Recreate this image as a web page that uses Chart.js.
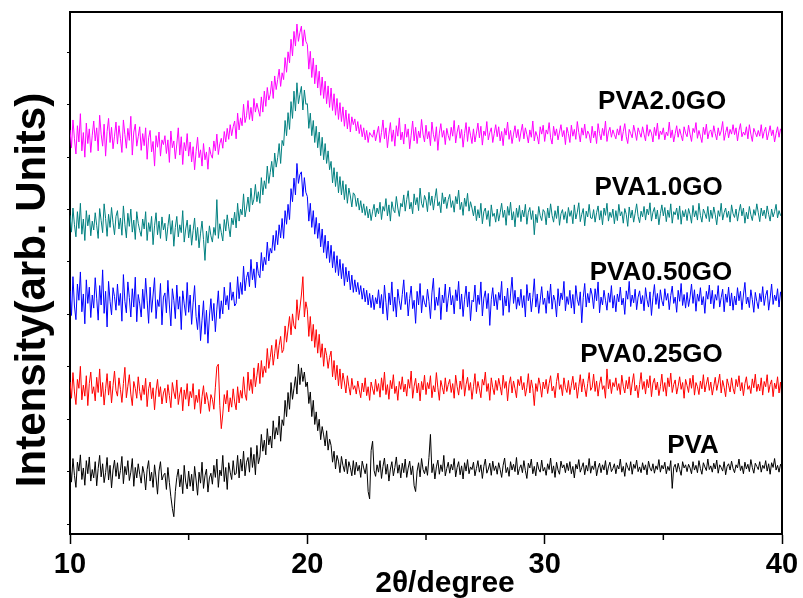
<!DOCTYPE html>
<html>
<head>
<meta charset="utf-8">
<script src="https://cdn.jsdelivr.net/npm/chart.js@4.4.1/dist/chart.umd.min.js"></script>
<style>
  html, body { margin: 0; padding: 0; background: #fff; }
  #wrap { width: 803px; height: 598px; }
</style>
</head>
<body>
<div id="wrap"><canvas id="xrdChart"></canvas></div>
<script>
// 2theta scan 10..40 deg, 16 readings per degree (one row = one degree)
const thetaStart = 10
const thetaEnd = 40

// intensities (arb. units, curves already stacked as in the figure)
const pva = [
  112,80,125,93,70,118,101,132,85,107,74,121,96,128,82,104,
  88,119,73,106,131,90,115,79,98,127,84,112,69,103,122,91,
  117,86,102,129,77,110,94,121,83,99,125,72,108,88,115,95,
  78,110,96,65,104,121,82,99,70,113,88,57,101,119,84,93,
  97,66,108,79,52,30,14,62,89,105,71,94,58,112,80,67,
  101,72,95,63,110,84,55,99,78,118,68,92,105,61,88,97,
  76,112,89,124,70,103,92,131,81,108,66,117,99,85,121,94,
  96,131,88,124,101,139,92,118,127,99,146,108,133,94,150,115,
  128,171,139,160,132,182,151,168,145,197,162,184,170,206,158,199,
  188,236,205,251,219,270,238,259,281,248,305,266,298,272,290,262,
  271,230,252,205,236,190,214,178,200,161,186,170,149,178,141,162,
  150,118,139,105,131,120,98,129,112,100,124,96,119,108,92,121,
  94,118,101,112,89,120,107,96,115,62,48,140,158,102,91,113,
  99,121,87,110,126,95,114,82,105,119,92,108,128,97,113,88,
  116,98,124,89,107,120,94,111,73,62,101,117,90,125,104,96,
  110,93,127,171,98,115,86,109,122,95,113,100,131,92,106,118,
  97,114,103,125,90,108,119,94,111,86,117,101,123,96,109,104,
  118,92,106,121,99,113,87,110,124,97,105,116,93,120,102,111,
  95,117,104,89,112,126,98,108,91,119,103,114,100,127,94,106,
  113,98,121,102,87,116,107,124,96,110,92,118,105,99,122,101,
  108,93,115,104,126,97,111,89,118,103,95,120,107,113,98,116,
  102,119,96,110,88,114,105,123,99,108,117,94,112,101,125,97,
  111,104,120,92,107,116,98,113,103,121,94,109,118,100,106,115,
  96,112,105,124,99,110,91,117,108,102,119,95,114,106,122,100,
  109,98,117,103,113,94,120,107,101,115,97,111,104,123,99,112,
  105,118,96,110,102,121,68,108,114,99,116,104,93,119,107,113,
  100,114,107,96,119,103,112,98,121,106,95,117,109,102,124,104,
  111,99,116,105,122,97,113,108,101,119,94,110,115,103,120,106,
  98,113,107,124,102,111,96,118,105,114,100,123,108,97,116,110,
  104,119,99,112,106,121,101,115,95,117,108,125,103,112,99,114,
  108
]
const pva025 = [
  271,240,289,252,228,276,259,301,237,265,244,283,226,268,290,249,
  262,235,280,251,296,243,270,227,258,287,246,273,231,264,292,255,
  244,279,257,232,268,299,241,263,285,248,226,272,259,240,281,253,
  236,265,247,278,224,258,271,239,260,218,254,276,243,262,229,250,
  259,231,266,245,222,270,252,239,275,228,248,261,216,256,238,268,
  225,253,241,268,219,246,232,257,211,243,264,229,251,236,215,247,
  238,219,261,300,305,226,182,210,247,229,255,214,241,223,258,233,
  218,262,231,255,240,281,248,236,290,255,276,249,298,262,283,307,
  268,312,280,301,289,335,297,318,341,303,326,352,315,341,358,327,
  333,378,347,372,396,361,401,378,372,428,389,412,437,472,395,424,
  409,358,396,349,381,337,371,326,362,318,344,301,336,322,297,318,
  330,281,312,275,303,264,296,258,288,271,250,283,262,246,278,257,
  264,248,273,256,241,269,252,279,245,262,236,271,258,247,276,253,
  268,242,279,255,290,247,266,238,274,258,285,249,263,236,272,257,
  281,252,267,244,276,259,292,240,263,278,250,269,235,272,256,284,
  247,270,258,283,241,264,252,289,260,236,274,261,248,279,253,266,
  276,251,268,240,284,262,246,273,257,295,244,266,280,255,270,238,
  262,287,249,272,258,241,276,265,290,253,268,236,279,260,247,274,
  255,278,263,246,284,259,272,235,267,281,250,273,258,241,276,264,
  282,256,270,244,261,287,250,275,259,226,268,253,279,265,242,271,
  258,276,249,268,283,254,263,241,272,288,257,266,245,279,260,251,
  274,247,265,282,256,270,240,263,285,252,277,260,243,268,289,255,
  261,286,253,273,244,267,281,257,264,240,296,258,276,249,270,262,
  279,255,268,247,284,263,250,274,258,281,246,269,287,254,265,241,
  266,289,257,272,248,276,260,283,243,269,278,256,271,245,262,286,
  253,270,244,279,262,288,251,266,275,248,263,281,257,270,240,276,
  264,251,278,259,284,246,270,262,247,273,258,285,252,267,280,255,
  271,246,263,280,255,269,286,250,274,261,243,277,265,252,279,259,
  248,276,262,283,254,270,245,268,281,257,264,249,277,260,286,253,
  267,254,279,246,272,262,285,251,266,275,243,269,258,281,250,271,
  236
]
const pva050 = [
  445,398,472,416,390,458,427,481,405,439,382,466,421,452,394,437,
  412,470,431,389,455,418,485,402,444,376,463,425,399,451,434,408,
  458,417,440,387,476,425,403,462,432,395,449,414,471,386,438,420,
  395,448,411,469,426,383,452,404,437,470,392,428,415,459,380,433,
  441,403,465,418,378,449,427,392,456,410,434,371,445,420,398,461,
  404,437,381,422,455,396,371,418,350,389,426,362,408,345,397,430,
  388,421,367,410,445,392,426,401,452,418,436,409,461,427,443,416,
  421,472,430,461,438,492,445,470,481,453,505,466,487,451,500,478,
  470,518,483,509,495,538,502,526,517,551,522,560,533,571,546,583,
  545,598,572,610,581,640,615,660,628,688,650,667,672,625,661,633,
  625,578,612,566,598,553,585,545,574,529,563,518,551,507,540,499,
  532,489,520,480,512,474,505,468,497,455,490,462,483,447,475,442,
  466,443,461,438,455,429,450,424,446,418,440,413,437,409,432,420,
  447,412,438,401,456,423,389,441,418,462,406,433,395,448,426,409,
  438,466,419,442,397,430,454,411,427,383,444,418,459,403,436,422,
  414,448,425,392,441,469,408,433,417,451,390,437,422,458,405,431,
  452,418,436,401,447,426,463,410,439,396,429,454,414,443,388,427,
  424,456,405,437,419,462,397,431,445,411,440,379,428,451,416,438,
  409,442,427,463,398,435,416,450,404,439,471,421,446,410,433,417,
  448,413,436,395,457,426,441,405,432,468,414,439,402,427,453,419,
  431,402,445,421,458,410,437,426,395,449,416,441,428,463,407,434,
  419,446,412,438,401,455,429,417,443,384,432,459,414,440,422,450,
  437,411,449,426,462,403,433,418,446,427,408,441,423,455,412,436,
  405,439,424,452,418,431,400,445,429,463,415,437,422,448,409,433,
  445,420,436,407,451,428,414,443,398,432,457,419,440,411,447,426,
  416,449,427,440,409,436,454,421,433,404,446,425,459,417,438,412,
  442,415,433,458,421,447,406,439,425,451,418,434,402,444,429,456,
  420,446,411,438,427,455,414,432,448,405,439,423,452,416,441,408,
  435,418,451,426,444,409,437,461,420,433,413,447,428,404,442,425,
  411,440,424,453,417,436,446,408,431,458,419,437,426,449,414,443,
  428
]
const pva10 = [
  589,557,603,571,548,596,564,612,553,582,541,598,569,590,550,578,
  561,594,570,545,602,579,556,611,583,549,591,566,604,575,552,587,
  598,563,584,551,607,572,546,593,568,601,557,580,543,596,574,560,
  549,582,563,596,541,575,558,587,533,569,594,552,578,545,586,561,
  574,540,568,591,553,579,530,566,587,548,571,556,598,538,563,580,
  546,571,532,560,584,541,566,527,555,578,543,503,559,536,569,550,
  538,566,551,619,545,573,556,540,581,559,590,567,548,584,571,595,
  565,612,578,601,590,630,586,603,624,596,641,609,620,648,615,634,
  612,661,628,655,640,683,650,671,692,662,708,681,699,726,688,732,
  722,770,741,785,753,806,774,826,788,842,802,820,835,790,828,801,
  802,755,784,741,770,728,759,718,748,703,738,695,726,688,712,676,
  692,651,680,644,672,632,663,628,655,619,648,612,641,626,605,632,
  628,606,622,599,617,594,611,589,606,584,601,579,597,610,586,603,
  592,614,581,606,597,621,588,609,578,615,600,594,625,603,587,612,
  605,628,597,619,636,601,614,592,630,609,623,598,641,612,604,627,
  618,596,633,608,626,599,621,640,607,615,594,632,611,624,602,619,
  629,604,617,595,625,611,637,600,614,589,622,606,631,597,615,603,
  588,607,579,600,584,612,573,596,603,581,598,568,609,587,593,576,
  601,578,594,612,585,599,570,606,589,614,580,596,567,603,585,608,
  577,599,586,610,572,595,604,581,598,552,591,575,606,588,579,600,
  595,571,603,584,611,589,576,598,583,607,570,592,600,581,596,574,
  604,587,598,573,609,582,595,613,577,591,602,569,597,586,610,584,
  583,600,576,594,607,580,598,571,603,589,612,578,595,585,601,573,
  598,579,610,588,596,574,602,591,568,605,584,599,576,593,611,587,
  575,597,586,606,580,601,590,613,578,595,604,582,599,571,592,609,
  588,604,577,599,585,611,574,596,590,603,581,607,572,598,586,600,
  579,602,591,574,608,586,598,580,612,589,576,601,593,583,606,577,
  599,583,605,590,571,598,587,612,580,594,603,585,597,576,609,592,
  585,601,578,596,610,588,603,574,595,582,606,590,579,600,589,611,
  594,577,603,588,599,583,607,591,578,601,586,596,610,584,598,589,
  586
]
const pva20 = [
  752,718,771,735,706,760,729,783,712,747,700,765,726,754,709,742,
  769,731,756,712,780,744,721,763,702,749,774,728,757,716,740,767,
  725,760,736,709,771,743,717,755,732,778,704,748,763,721,739,758,
  713,745,722,756,696,737,751,710,730,683,741,719,748,702,733,724,
  741,707,733,690,750,718,731,697,725,756,704,739,686,728,712,745,
  702,729,691,720,676,711,738,699,714,683,726,695,710,677,719,705,
  698,731,712,744,705,726,736,717,749,729,755,734,762,741,758,769,
  735,784,752,775,760,801,766,779,808,772,795,769,812,786,803,790,
  778,815,786,826,797,833,809,820,845,812,855,829,848,868,835,861,
  848,890,862,901,880,925,893,940,912,954,921,938,950,912,943,921,
  915,868,902,852,889,840,876,832,864,818,853,812,845,802,836,795,
  832,789,821,780,812,772,804,768,796,759,790,754,783,748,777,762,
  773,750,768,745,762,739,756,733,751,728,747,742,738,752,731,746,
  759,728,747,771,735,756,718,744,766,730,752,721,760,740,775,733,
  748,725,763,738,754,716,742,769,731,757,726,750,737,772,744,729,
  761,735,749,722,767,743,730,758,713,746,764,738,751,724,755,741,
  732,757,740,770,727,748,761,736,753,719,745,766,730,758,742,726,
  754,729,746,765,737,759,723,750,741,768,733,747,756,728,745,762,
  739,758,731,749,722,755,742,767,734,751,726,744,760,737,753,730,
  748,763,735,756,743,727,752,738,769,731,749,740,725,758,744,761,
  730,752,744,766,737,725,759,741,754,733,748,762,739,751,724,757,
  745,728,761,740,753,734,768,747,729,756,742,763,736,750,744,727,
  759,737,750,726,764,745,733,755,741,769,730,748,757,738,752,743,
  735,754,742,760,731,749,764,739,726,753,745,737,761,748,732,756,
  747,738,758,744,731,762,740,753,746,729,757,741,765,734,750,743,
  756,733,748,741,767,737,752,729,745,760,738,754,742,731,758,746,
  739,761,744,730,755,747,766,736,751,740,728,757,743,763,735,749,
  752,738,760,745,733,756,741,750,768,732,747,758,737,753,744,762,
  743,756,731,751,764,739,748,742,758,735,762,744,730,755,747,739,
  751,740,762,736,749,757,733,746,760,741,752,729,745,758,738,754,
  748
]

const seriesNames = ['PVA', 'PVA0.25GO', 'PVA0.50GO', 'PVA1.0GO', 'PVA2.0GO']
const seriesValues = [pva, pva025, pva050, pva10, pva20]
const seriesColors = ['#000000', '#ff0000', '#0000ff', '#008080', '#ff00ff']

const xTicks = [10, 20, 30, 40]
const xMinorTicks = [15, 25, 35]
const yTicks = [0, 100, 200, 300, 400, 500, 600, 700, 800, 900]

const fontFamily = '"Liberation Sans", Arial, Helvetica, sans-serif'

const toPoints = vals => {
  const step = (thetaEnd - thetaStart) / (vals.length - 1)
  return vals.map((v, i) => ({ x: thetaStart + i * step, y: v }))
}

// frame, minor ticks, curve names and axis titles
const decorations = {
  id: 'decorations',
  afterDraw(chart, args, opts) {
    const { ctx, chartArea: { left, right, top, bottom }, scales: { x, y } } = chart
    ctx.save()
    ctx.strokeStyle = '#000'
    ctx.lineWidth = 2
    ctx.beginPath()
    ctx.moveTo(left, top)
    ctx.lineTo(right, top)
    ctx.lineTo(right, bottom)
    ctx.stroke()

    ctx.lineWidth = 1.5
    ctx.beginPath()
    xMinorTicks.forEach(t => {
      const px = x.getPixelForValue(t)
      ctx.moveTo(px, bottom)
      ctx.lineTo(px, bottom + 6)
    })
    ctx.stroke()

    ctx.fillStyle = '#000'
    ctx.textAlign = 'center'
    ctx.textBaseline = 'middle'
    ctx.font = 'bold 26px ' + fontFamily
    opts.names.forEach((n, i) => {
      ctx.fillText(seriesNames[i], x.getPixelForValue(n.x), y.getPixelForValue(n.y))
    })

    ctx.font = 'bold 30px ' + fontFamily
    ctx.textBaseline = 'alphabetic'
    ctx.fillText('2θ/degree', (left + right) / 2 + 19, bottom + 58)

    ctx.translate(33, (top + bottom) / 2 + 17)
    ctx.rotate(-Math.PI / 2)
    ctx.textBaseline = 'middle'
    ctx.font = 'bold 42px ' + fontFamily
    ctx.fillText('Intensity(arb. Units)', 0, 0)
    ctx.restore()
  }
}

new Chart(document.getElementById('xrdChart'), {
  type: 'line',
  data: {
    datasets: seriesNames.map((name, i) => ({
      label: name,
      data: toPoints(seriesValues[i]),
      borderColor: seriesColors[i],
      borderWidth: 1,
      pointRadius: 0,
      fill: false,
      tension: 0
    }))
  },
  options: {
    responsive: true,
    maintainAspectRatio: false,
    animation: false,
    layout: {
      padding: { left: 0, right: 21, top: 12, bottom: 0 }
    },
    plugins: {
      legend: { display: false },
      tooltip: { enabled: false },
      decorations: {
        names: [
          { x: 36.25, y: 149 },
          { x: 34.5, y: 323 },
          { x: 34.9, y: 479 },
          { x: 34.8, y: 641 },
          { x: 34.95, y: 805 }
        ]
      }
    },
    scales: {
      x: {
        type: 'linear',
        min: 10,
        max: 40,
        afterBuildTicks: s => { s.ticks = xTicks.map(v => ({ value: v })) },
        afterFit: s => { s.height = 64 },
        ticks: {
          color: '#000',
          padding: 4,
          maxRotation: 0,
          font: { family: fontFamily, size: 29, weight: 'bold' }
        },
        grid: {
          drawOnChartArea: false,
          tickLength: 10,
          tickWidth: 1.5,
          tickColor: '#000'
        },
        border: { color: '#000', width: 2 }
      },
      y: {
        min: -19,
        max: 977,
        afterBuildTicks: s => { s.ticks = yTicks.map(v => ({ value: v })) },
        afterFit: s => { s.width = 70 },
        ticks: { display: false },
        grid: {
          drawOnChartArea: false,
          tickLength: 3,
          tickWidth: 1,
          tickColor: '#000'
        },
        border: { color: '#000', width: 2 }
      }
    }
  },
  plugins: [decorations]
})
</script>
</body>
</html>
